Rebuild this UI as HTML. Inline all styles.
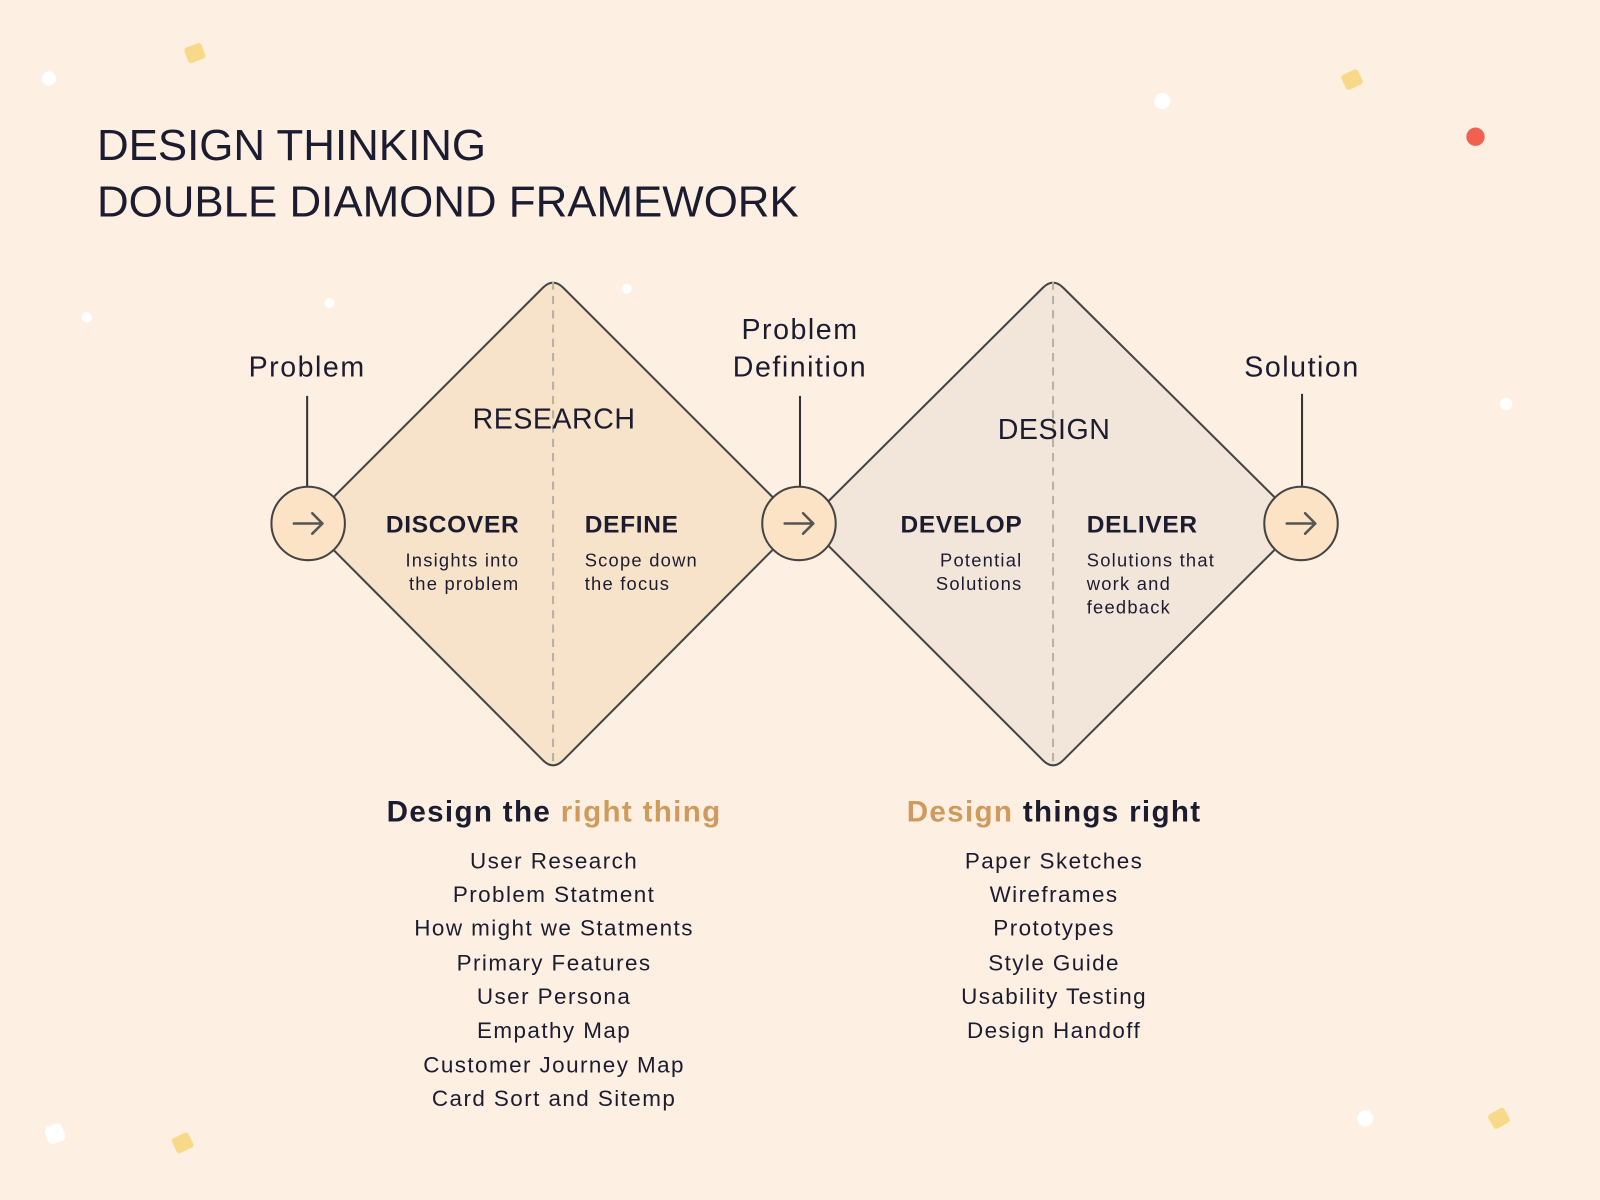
<!DOCTYPE html>
<html><head><meta charset="utf-8"><style>
html,body{margin:0;padding:0;background:#fdefe1;}
svg{display:block;}
text{font-family:"Liberation Sans",sans-serif;fill:#1c1c30;}
</style></head><body>
<svg width="1600" height="1200" viewBox="0 0 1568 1176" xmlns="http://www.w3.org/2000/svg">
<rect width="1568" height="1176" fill="#fdefe1"/>
<rect x="182" y="44" width="18" height="16" rx="3" fill="#f8d98a" transform="rotate(-20 191 52)"/>
<rect x="1316" y="70" width="18" height="16" rx="3" fill="#f8d98a" transform="rotate(-25 1325 78)"/>
<rect x="170" y="1112" width="18" height="16" rx="3" fill="#f8d98a" transform="rotate(-25 179 1120)"/>
<rect x="1460" y="1088" width="18" height="16" rx="3" fill="#f8d98a" transform="rotate(-30 1469 1096)"/>
<circle cx="1446" cy="134" r="9" fill="#f26150"/>
<circle cx="48" cy="77" r="7" fill="#fff"/>
<circle cx="1139" cy="99" r="8" fill="#fff"/>
<circle cx="323" cy="297" r="5" fill="#fff"/>
<circle cx="614" cy="283" r="5" fill="#fff"/>
<circle cx="85" cy="311" r="5" fill="#fff"/>
<circle cx="1476" cy="396" r="6" fill="#fff"/>
<circle cx="1338" cy="1096" r="8" fill="#fff"/>
<rect x="45" y="1102" width="18" height="18" rx="5" fill="#fff" transform="rotate(-20 54 1111)"/>
<text x="95" y="157" font-size="43" style="fill:#1c1c30">DESIGN THINKING</text>
<text x="95" y="212" font-size="43" style="fill:#1c1c30">DOUBLE DIAMOND FRAMEWORK</text>
<path d="M532,282 Q542,272 552,282 L773,503 Q783,513 773,523 L552,745 Q542,755 532,745 L311,523 Q301,513 311,503 Z" fill="#f7e2ca" stroke="#444" stroke-width="2"/>
<path d="M1022,282 Q1032,272 1042,282 L1265,503 Q1275,513 1265,523 L1042,745 Q1032,755 1022,745 L800,523 Q790,513 800,503 Z" fill="#f2e6da" stroke="#444" stroke-width="2"/>
<line x1="542" y1="276" x2="542" y2="752" stroke="#bbb0a0" stroke-width="2" stroke-dasharray="8,6"/>
<line x1="1032" y1="276" x2="1032" y2="752" stroke="#bbb0a0" stroke-width="2" stroke-dasharray="8,6"/>
<line x1="301" y1="388" x2="301" y2="477" stroke="#333" stroke-width="2"/>
<line x1="784" y1="388" x2="784" y2="477" stroke="#333" stroke-width="2"/>
<line x1="1276" y1="386" x2="1276" y2="477" stroke="#333" stroke-width="2"/>
<g stroke="#444" stroke-width="2" fill="#fde3c5">
<circle cx="302" cy="513" r="36"/><circle cx="783" cy="513" r="36"/><circle cx="1275" cy="513" r="36"/>
</g>
<g stroke="#555" stroke-width="2.5" fill="none" stroke-linecap="round" stroke-linejoin="round">
<path d="M288,513 H316 M306,503 L316,513 L306,523"/>
<path d="M769,513 H797 M787,503 L797,513 L787,523"/>
<path d="M1261,513 H1289 M1279,503 L1289,513 L1279,523"/>
</g>
<g font-size="28" text-anchor="middle" letter-spacing="1.5">
<text x="301" y="369">Problem</text>
<text x="784" y="332">Problem</text>
<text x="784" y="369">Definition</text>
<text x="1276" y="369">Solution</text>
<text x="543" y="420" letter-spacing="0.5">RESEARCH</text>
<text x="1033" y="430" letter-spacing="0.5">DESIGN</text>
</g>
<g font-size="24" font-weight="bold" letter-spacing="0.7">
<text x="509" y="522" text-anchor="end">DISCOVER</text>
<text x="573" y="522">DEFINE</text>
<text x="1002" y="522" text-anchor="end">DEVELOP</text>
<text x="1065" y="522">DELIVER</text>
</g>
<g font-size="18" letter-spacing="1.2">
<text x="509" y="555" text-anchor="end">Insights into</text>
<text x="509" y="578" text-anchor="end">the problem</text>
<text x="573" y="555">Scope down</text>
<text x="573" y="578">the focus</text>
<text x="1002" y="555" text-anchor="end">Potential</text>
<text x="1002" y="578" text-anchor="end">Solutions</text>
<text x="1065" y="555">Solutions that</text>
<text x="1065" y="578">work and</text>
<text x="1065" y="601">feedback</text>
</g>
<g font-size="29" font-weight="bold" text-anchor="middle" letter-spacing="1.3">
<text x="543" y="805">Design the <tspan style="fill:#d09a5c">right thing</tspan></text>
<text x="1033" y="805"><tspan style="fill:#d09a5c">Design</tspan> things right</text>
</g>
<g font-size="22" text-anchor="middle" letter-spacing="1.4">
<text x="543" y="851">User Research</text>
<text x="543" y="884">Problem Statment</text>
<text x="543" y="917">How might we Statments</text>
<text x="543" y="951">Primary Features</text>
<text x="543" y="984">User Persona</text>
<text x="543" y="1017">Empathy Map</text>
<text x="543" y="1051">Customer Journey Map</text>
<text x="543" y="1084">Card Sort and Sitemp</text>
<text x="1033" y="851">Paper Sketches</text>
<text x="1033" y="884">Wireframes</text>
<text x="1033" y="917">Prototypes</text>
<text x="1033" y="951">Style Guide</text>
<text x="1033" y="984">Usability Testing</text>
<text x="1033" y="1017">Design Handoff</text>
</g>
</svg>
</body></html>
